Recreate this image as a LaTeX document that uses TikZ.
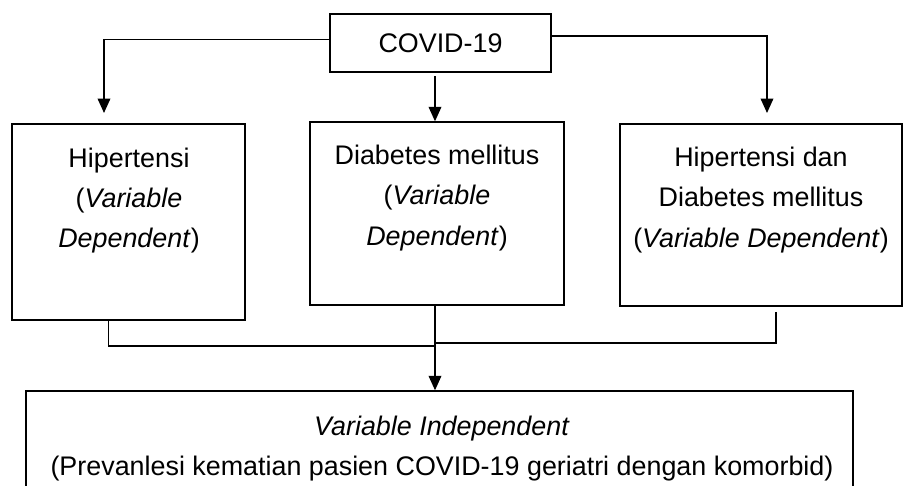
\documentclass[tikz,border=0pt]{standalone}
\usepackage{fontspec}
\setmainfont{Liberation Sans}
\usetikzlibrary{arrows.meta}
\tikzset{
	kotak/.style={draw, line width=0.8pt, inner sep=0pt},
	teks/.style={align=center, font=\fontsize{15.3}{23}\selectfont},
	garis/.style={line width=0.8pt},
	panah/.style={garis, -{Triangle[width=7.2pt,length=8.2pt]}}
}

\begin{document}
\begin{tikzpicture}[x=0.02cm, y=-0.02cm]
			\useasboundingbox (0,0) rectangle (910,486);

			% kotak-kotak
			\node[kotak, teks, minimum width=4.42cm, minimum height=1.16cm] (covid) at (440.5,43) {COVID-19};
			\node[kotak, minimum width=4.66cm, minimum height=3.92cm] (hip) at (128.5,222) {};
			\node[kotak, minimum width=5.08cm, minimum height=3.66cm] (dm) at (437,213.5) {};
			\node[kotak, minimum width=5.64cm, minimum height=3.64cm] (hdm) at (761,215) {};
			\node[kotak, minimum width=16.54cm, minimum height=2.16cm] (indep) at (439.5,445) {};

			\node[teks] (hiptxt) at (129,200.5) {Hipertensi\\(\textit{Variable}\\\textit{Dependent})};
			\node[teks] (dmtxt) at (437,198) {Diabetes mellitus\\(\textit{Variable}\\\textit{Dependent})};
			\node[teks] (hdmtxt) at (761,200) {Hipertensi dan\\Diabetes mellitus\\(\textit{Variable Dependent})};
			\node[teks] (indeptxt) at (442,448.5) {\textit{Variable Independent}\\(Prevanlesi kematian pasien COVID-19 geriatri dengan komorbid)};

			% titik bantu
			\coordinate (kiri) at (104,113);
			\coordinate (kanan) at (767,113);
			\coordinate (hipbawah) at (108.5,321);
			\coordinate (hdmbawah) at (776,312);
			\coordinate (temukiri) at (435,346);
			\coordinate (temukanan) at (435,343);

			\draw[panah] ([yshift=2pt]covid.west) -| (kiri);
			\draw[panah] ([yshift=4pt]covid.east) -| (kanan);
			\draw[panah] ([yshift=-2pt]covid.south -| temukiri) -- (temukiri |- dm.north);

			\draw[garis] (hipbawah) |- (temukiri);
			\draw[garis] (hdmbawah) |- (temukanan);
			\draw[panah] (temukiri |- dm.south) -- (temukiri |- indep.north);
		\end{tikzpicture}
\end{document}
